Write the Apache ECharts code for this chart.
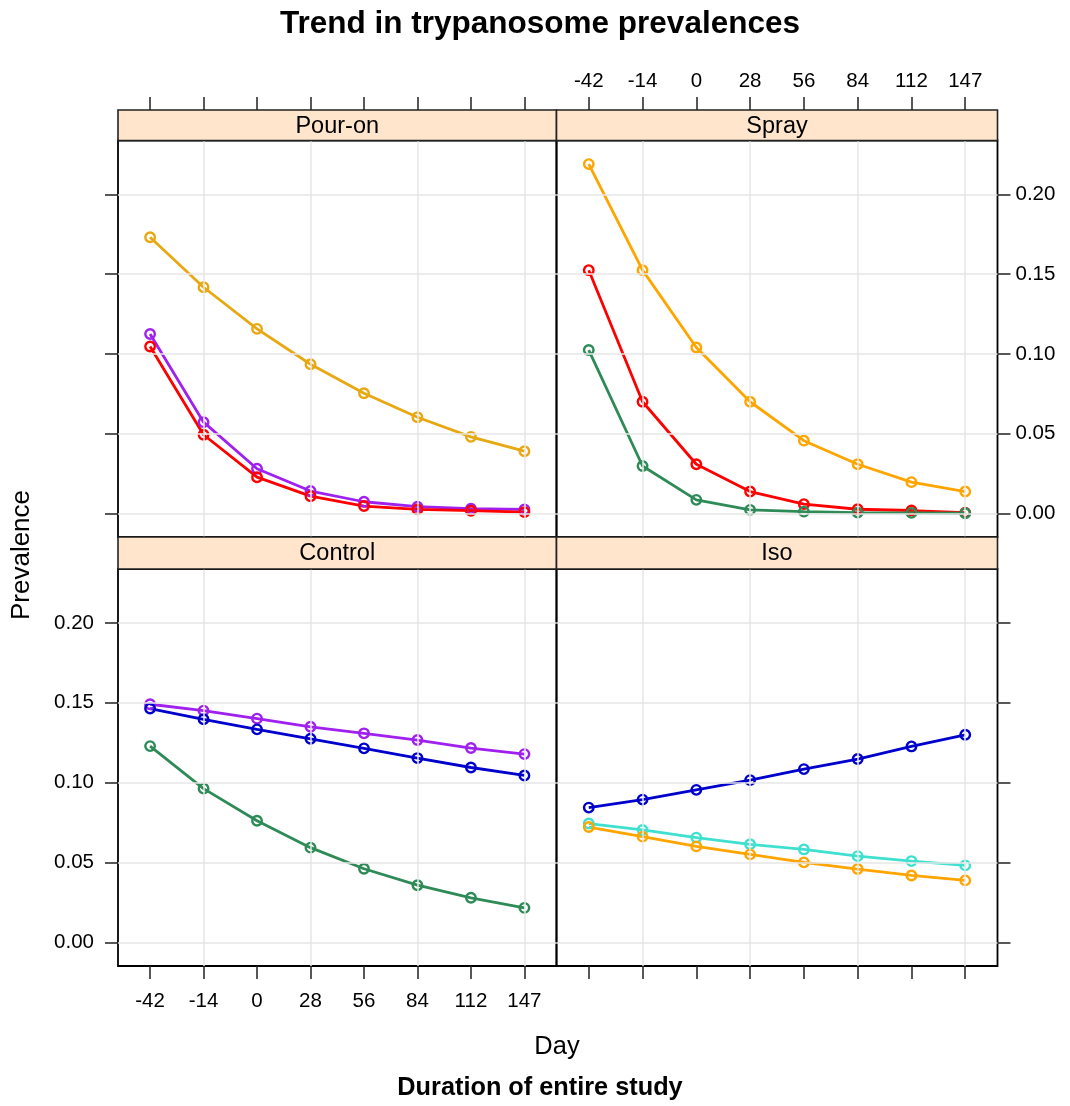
<!DOCTYPE html>
<html>
<head>
<meta charset="utf-8">
<title>Trend in trypanosome prevalences</title>
<script src="https://cdn.jsdelivr.net/npm/echarts@6/dist/echarts.min.js"></script>
<style>
  html, body { margin: 0; padding: 0; background: #fff; }
  #chart { width: 1070px; height: 1106px; }
</style>
</head>
<body>
<div id="chart"></div>
<script>
// Study days (sampling occasions), shared by all panels
const dayLabels = ['-42', '-14', '0', '28', '56', '84', '112', '147'];
const prevalenceTicks = [0, 0.05, 0.10, 0.15, 0.20];
const dayGridIdx = [1, 3, 5, 7];

// Pour-on panel
const pourOnOrange = [0.1731, 0.1418, 0.1157, 0.0935, 0.0753, 0.0603, 0.0480, 0.0390];
const pourOnPurple = [0.1125, 0.0572, 0.0280, 0.0140, 0.0073, 0.0042, 0.0029, 0.0025];
const pourOnRed    = [0.1046, 0.0493, 0.0227, 0.0108, 0.0046, 0.0025, 0.0017, 0.0008];

// Spray panel
const sprayOrange = [0.2190, 0.1525, 0.1040, 0.0700, 0.0456, 0.0308, 0.0196, 0.0137];
const sprayRed    = [0.1525, 0.0700, 0.0308, 0.0137, 0.0058, 0.0026, 0.0018, 0.0005];
const sprayGreen  = [0.1024, 0.0297, 0.0085, 0.0022, 0.0011, 0.0005, 0.0003, 0.0001];

// Control panel
const controlPurple = [0.1491, 0.1451, 0.1401, 0.1350, 0.1309, 0.1267, 0.1217, 0.1179];
const controlBlue   = [0.1464, 0.1397, 0.1334, 0.1275, 0.1215, 0.1154, 0.1095, 0.1045];
const controlGreen  = [0.1229, 0.0963, 0.0762, 0.0593, 0.0461, 0.0358, 0.0279, 0.0216];

// Iso panel
const isoBlue   = [0.0844, 0.0894, 0.0955, 0.1016, 0.1085, 0.1148, 0.1227, 0.1300];
const isoCyan   = [0.0744, 0.0704, 0.0656, 0.0614, 0.0582, 0.0540, 0.0509, 0.0482];
const isoOrange = [0.0722, 0.0662, 0.0601, 0.0551, 0.0501, 0.0459, 0.0419, 0.0388];

const FONT = "'Liberation Sans', Arial, Helvetica, sans-serif";
const C = {
  gold: '#E8A812', orange: '#FFA500', purple: '#A020F0', red: '#FF0000',
  green: '#2E8B57', blue: '#0000CD', cyan: '#40E0D0'
};

// Panel geometry (lattice-style 2 x 2 layout with strips above each panel)
const X0 = 118, XM = 556.5, X1 = 997.5;
const STRIP = 30.5;
const TOP_STRIP = 110, TOP_Y0 = TOP_STRIP + STRIP, TOP_Y1 = 537;
const BOT_Y0 = TOP_Y1 + 32, BOT_Y1 = 966;
const Y_MIN = -0.0148, Y_MAX = 0.2338;

const panels = [
  { name: 'Pour-on', left: X0, right: XM, top: TOP_Y0, bottom: TOP_Y1, xPos: 'top', yPos: 'left', xLab: false, yLab: false,
    lines: [[pourOnOrange, C.gold], [pourOnPurple, C.purple], [pourOnRed, C.red]] },
  { name: 'Spray', left: XM, right: X1, top: TOP_Y0, bottom: TOP_Y1, xPos: 'top', yPos: 'right', xLab: true, yLab: true,
    lines: [[sprayOrange, C.orange], [sprayRed, C.red], [sprayGreen, C.green]] },
  { name: 'Control', left: X0, right: XM, top: BOT_Y0, bottom: BOT_Y1, xPos: 'bottom', yPos: 'left', xLab: true, yLab: true,
    lines: [[controlPurple, C.purple], [controlBlue, C.blue], [controlGreen, C.green]] },
  { name: 'Iso', left: XM, right: X1, top: BOT_Y0, bottom: BOT_Y1, xPos: 'bottom', yPos: 'right', xLab: false, yLab: false,
    lines: [[isoBlue, C.blue], [isoCyan, C.cyan], [isoOrange, C.orange]] }
];

const dayIdx = dayLabels.map((d, i) => i);
const grid = [], xAxis = [], yAxis = [], series = [], graphic = [];

panels.forEach((p, k) => {
  grid.push({
    left: p.left, top: p.top, width: p.right - p.left, height: p.bottom - p.top,
    show: true, borderColor: '#000', borderWidth: 1.8, backgroundColor: 'transparent'
  });
  xAxis.push({
    type: 'value', gridIndex: k, min: -0.6, max: 7.6, position: p.xPos,
    offset: p.xPos === 'top' ? STRIP : 0,
    axisLine: { show: false, onZero: false },
    axisTick: { show: true, inside: false, length: 13, customValues: dayIdx, lineStyle: { color: '#222', width: 1.5 } },
    axisLabel: { show: p.xLab, customValues: dayIdx, margin: p.xPos === 'top' ? 18 : 25,
      formatter: v => dayLabels[Math.round(v)], color: '#000', fontFamily: FONT, fontSize: 20.5 },
    splitLine: { show: false }
  });
  yAxis.push({
    type: 'value', gridIndex: k, min: Y_MIN, max: Y_MAX, position: p.yPos,
    axisLine: { show: false, onZero: false },
    axisTick: { show: true, inside: false, length: 13, customValues: prevalenceTicks, lineStyle: { color: '#222', width: 1.5 } },
    axisLabel: { show: p.yLab, customValues: prevalenceTicks, margin: p.yPos === 'left' ? 24 : 18,
      formatter: v => v.toFixed(2), color: '#000', fontFamily: FONT, fontSize: 20.5 },
    splitLine: { show: false }
  });

  // reference grid lines of the panel
  series.push({
    type: 'line', xAxisIndex: k, yAxisIndex: k, data: [], z: 1, silent: true,
    markLine: {
      silent: true, symbol: 'none', animation: false,
      label: { show: false },
      lineStyle: { color: '#E6E6E6', width: 1.5, type: 'solid' },
      data: dayGridIdx.map(i => ({ xAxis: i })).concat(prevalenceTicks.map(v => ({ yAxis: v })))
    }
  });

  p.lines.forEach(([vals, col]) => {
    series.push({
      type: 'line', xAxisIndex: k, yAxisIndex: k, z: 3,
      data: vals.map((v, i) => [i, v]),
      symbol: 'circle', symbolSize: 9.5, showSymbol: true,
      lineStyle: { color: col, width: 2.8 },
      itemStyle: { color: 'rgba(255,255,255,0)', borderColor: col, borderWidth: 2.4 },
      emphasis: { disabled: true }
    });
  });

  // strip with the panel name
  const sy = p.xPos === 'top' ? TOP_STRIP : TOP_Y1;
  const sh = p.xPos === 'top' ? STRIP : BOT_Y0 - TOP_Y1;
  graphic.push({
    type: 'rect', z: 10,
    shape: { x: p.left, y: sy, width: p.right - p.left, height: sh },
    style: { fill: '#FFE5CC', stroke: '#222', lineWidth: 1.6 }
  });
  graphic.push({
    type: 'text', z: 11,
    x: (p.left + p.right) / 2, y: sy + sh / 2 + 1,
    style: { text: p.name, fontFamily: FONT, fontSize: 23.5, fill: '#000', align: 'center', verticalAlign: 'middle' }
  });
});

// titles
graphic.push({
  type: 'text', x: 540, y: 24,
  style: { text: 'Trend in trypanosome prevalences', fontFamily: FONT, fontSize: 31.5, fontWeight: 'bold',
    fill: '#000', align: 'center', verticalAlign: 'middle' }
});
graphic.push({
  type: 'text', x: 557, y: 1047,
  style: { text: 'Day', fontFamily: FONT, fontSize: 25.5, fill: '#000', align: 'center', verticalAlign: 'middle' }
});
graphic.push({
  type: 'text', x: 540, y: 1088,
  style: { text: 'Duration of entire study', fontFamily: FONT, fontSize: 25.3, fontWeight: 'bold',
    fill: '#000', align: 'center', verticalAlign: 'middle' }
});
graphic.push({
  type: 'text', x: 22, y: 555, rotation: Math.PI / 2,
  style: { text: 'Prevalence', fontFamily: FONT, fontSize: 26, fill: '#000', align: 'center', verticalAlign: 'middle' }
});

const chart = echarts.init(document.getElementById('chart'), null, { renderer: 'canvas' });
chart.setOption({
  animation: false,
  backgroundColor: '#fff',
  grid, xAxis, yAxis, series, graphic
});
</script>
</body>
</html>
